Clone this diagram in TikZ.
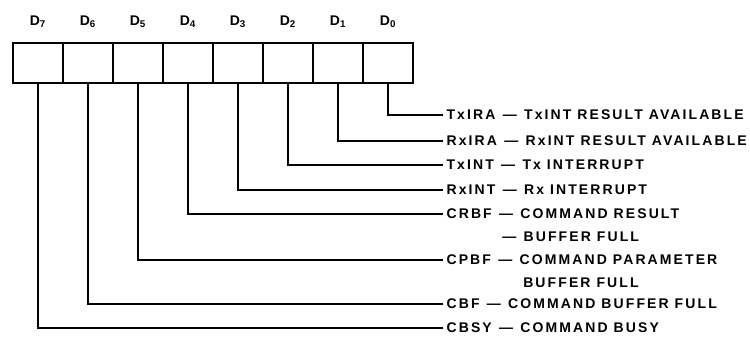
\documentclass[tikz,border=0pt]{standalone}
\usepackage{fontspec}
\setmainfont{Liberation Sans}
\newfontfamily\regfont{Liberation Sans}[LetterSpace=15]
\usetikzlibrary{positioning}
\tikzset{
  cell/.style    = {draw, line width=1.1pt, minimum width=37.5pt, minimum height=30pt, inner sep=0pt},
  bitname/.style = {inner sep=0pt, font=\regfont\bfseries\fontsize{10.5}{12}\selectfont},
  field/.style   = {anchor=west, inner sep=0pt, inner xsep=2.5pt,
                    font=\regfont\bfseries\fontsize{10.5}{12}\selectfont},
  tap/.style     = {draw, line width=1.1pt},
}
\newcommand{\dsh}{\hspace{5.5pt}\textemdash\hspace{5.5pt}}
\newcommand{\bit}[2]{\node[cell] (b#1) at (#2,63) {};
  \node[bitname] (d#1) at (#2,22) {D\textsubscript{#1}};}
\newcommand{\field}[4]{\node[field] (#1) at (443,#2) {#3\dsh#4};}

\begin{document}
\begin{tikzpicture}[x=0.75pt,y=-0.75pt]
\useasboundingbox (0,0) rectangle (750,341);

% ------------------------------------------------------------------ register
\foreach \i in {0,...,7}{\bit{\i}{388-50*\i}}

% ------------------------------------------------------------------ bit names
\field{f0}{115}{TxIRA}{TxINT RESULT AVAILABLE}
\field{f1}{141}{RxIRA}{RxINT RESULT AVAILABLE}
\field{f2}{165}{TxINT}{Tx INTERRUPT}
\field{f3}{190}{RxINT}{Rx INTERRUPT}
\field{f4}{214}{CRBF}{COMMAND RESULT}
\node[field] (f4b) at (498.7,237) {\textemdash\hspace{5.5pt}BUFFER FULL};
\field{f5}{260}{CPBF}{COMMAND PARAMETER}
\node[field] (f5b) at (519.7,283) {BUFFER FULL};
\field{f6}{304}{CBF}{COMMAND BUFFER FULL}
\field{f7}{328}{CBSY}{COMMAND BUSY}

\foreach \i in {0,...,7}{\draw[tap] (b\i.south) |- (f\i.west);}

\end{tikzpicture}
\end{document}
